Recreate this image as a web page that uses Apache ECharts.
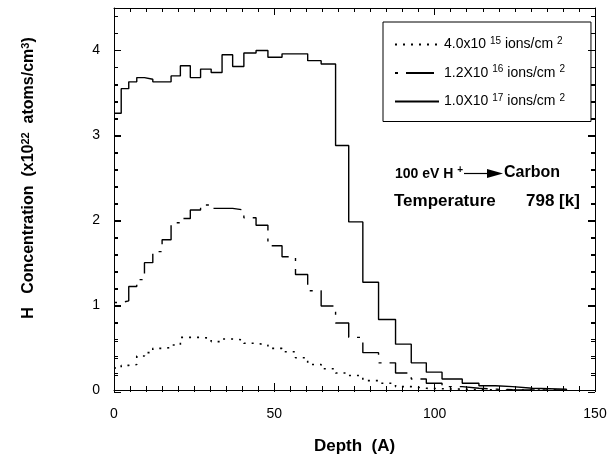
<!DOCTYPE html>
<html>
<head>
<meta charset="utf-8">
<script src="https://cdn.jsdelivr.net/npm/echarts@6/dist/echarts.min.js"></script>
<style>
  html, body { margin: 0; padding: 0; background: #fff; }
  #chart { width: 613px; height: 460px; }
</style>
</head>
<body>
<div id="chart"></div>
<script>
// bin edges of the depth histogram (A)
const binEdges = [0, 2.25, 4.6, 7.1, 9.5, 12.1, 15.0, 17.8, 20.7, 23.8, 27.0, 30.3, 33.7,
  37.0, 40.5, 44.3, 48.0, 52.4, 56.6, 60.4, 64.6, 69.1, 73.2, 77.6, 82.5, 87.8, 92.7,
  97.4, 102.3, 108.6, 113.8, 119.0, 124.3, 130.5, 135.8, 141.1];

// H concentration per bin (x10^22 atoms/cm^3)
const lowDose = [0.26, 0.29, 0.30, 0.40, 0.44, 0.49, 0.50, 0.53, 0.62, 0.62, 0.61, 0.57,
  0.60, 0.59, 0.55, 0.53, 0.49, 0.45, 0.38, 0.30, 0.25, 0.20, 0.17, 0.11, 0.08, 0.04,
  0.02, 0.015, 0.01, 0.005, 0, 0, 0, 0, 0];
const midDose = [1.03, 1.05, 1.22, 1.30, 1.50, 1.63, 1.77, 1.97, 2.02, 2.12, 2.18, 2.14,
  2.14, 2.12, 2.03, 1.94, 1.70, 1.57, 1.36, 1.17, 0.99, 0.79, 0.62, 0.44, 0.32, 0.20,
  0.13, 0.08, 0.04, 0.02, 0.01, 0.005, 0, 0, 0];
const highDose = [3.26, 3.55, 3.63, 3.68, 3.66, 3.63, 3.63, 3.70, 3.82, 3.68, 3.78, 3.74,
  3.95, 3.81, 3.97, 4.00, 3.92, 3.96, 3.96, 3.88, 3.84, 2.88, 1.98, 1.27, 0.83, 0.54,
  0.32, 0.21, 0.13, 0.08, 0.05, 0.04, 0.02, 0.015, 0.01];

const doseBase = ['4.0x10', '1.2X10', '1.0X10'];
const doseExp = ['15', '16', '17'];
const seriesNames = ['low', 'mid', 'high'];

const FONT = 'Liberation Sans, Arial, sans-serif';
const PLOT = { left: 114, right: 18, top: 8, bottom: 68 };
const X_RANGE = { min: 0, max: 150, interval: 50, minor: 10 };
const Y_RANGE = { min: 0, max: 4.5, interval: 1, minor: 5 };

function steps(vals) {
  const pts = vals.map((v, i) => [binEdges[i], v]);
  pts.push([binEdges[vals.length], 0]);
  return pts;
}

const chart = echarts.init(document.getElementById('chart'));

function frameAxis(extra, split) {
  return Object.assign({
    type: 'value', gridIndex: 0,
    axisLine: { show: true, onZero: false, lineStyle: { color: '#000', width: 1 } },
    axisTick: { show: true, inside: true, length: 7, lineStyle: { color: '#000', width: 1 } },
    minorTick: { show: true, splitNumber: split, length: 4, lineStyle: { color: '#000', width: 1 } },
    splitLine: { show: false }
  }, extra);
}

// thin strips along the frame; their split lines act as the inward tick marks
const grids = [Object.assign({}, PLOT)];
const xAxes = [
  frameAxis({
    min: X_RANGE.min, max: X_RANGE.max, interval: X_RANGE.interval, position: 'bottom',
    axisLabel: { margin: 17, fontSize: 14, color: '#000', fontFamily: FONT },
    name: 'Depth  (A)', nameLocation: 'middle', nameGap: 48,
    nameTextStyle: { fontSize: 17, fontWeight: 'bold', color: '#000', fontFamily: FONT }
  }, X_RANGE.minor),
  frameAxis({
    min: X_RANGE.min, max: X_RANGE.max, interval: X_RANGE.interval, position: 'top',
    axisLabel: { show: false }
  }, X_RANGE.minor)
];
const yAxes = [
  frameAxis({
    min: Y_RANGE.min, max: Y_RANGE.max, interval: Y_RANGE.interval, position: 'left',
    axisLabel: { margin: 14, fontSize: 14, color: '#000', fontFamily: FONT,
      showMaxLabel: false },
    name: '{t|H   Concentration  (x10}{s|22}{t|  atoms/cm}{s|3}{t|)}',
    nameLocation: 'middle', nameGap: 76,
    nameTextStyle: {
      fontSize: 16, fontWeight: 'bold', color: '#000', fontFamily: FONT,
      padding: [0, 0, 0, 42],
      rich: {
        t: { fontSize: 16, fontWeight: 'bold', fontFamily: FONT, color: '#000' },
        s: { fontSize: 11, fontWeight: 'bold', fontFamily: FONT, color: '#000',
          verticalAlign: 'bottom', padding: [0, 0, 7, 0] }
      }
    }
  }, Y_RANGE.minor),
  frameAxis({
    min: Y_RANGE.min, max: Y_RANGE.max, interval: Y_RANGE.interval, position: 'right',
    axisLabel: { show: false }
  }, Y_RANGE.minor)
];

function tickAxis(range, gridIndex, minor) {
  return {
    type: 'value', gridIndex: gridIndex,
    min: range.min, max: range.max, interval: range.interval,
    axisLine: { show: false }, axisTick: { show: false }, axisLabel: { show: false },
    splitLine: { show: true, lineStyle: { color: '#000', width: 1 } },
    minorTick: { show: false, splitNumber: range.minor },
    minorSplitLine: { show: minor, lineStyle: { color: '#000', width: 1 } }
  };
}
function dummyAxis(gridIndex) {
  return { type: 'value', gridIndex: gridIndex, min: 0, max: 1, show: false,
    splitLine: { show: false } };
}

[
  { box: { left: PLOT.left, right: PLOT.right, bottom: PLOT.bottom, height: 7 }, dir: 'x', minor: false },
  { box: { left: PLOT.left, right: PLOT.right, bottom: PLOT.bottom, height: 4 }, dir: 'x', minor: true },
  { box: { left: PLOT.left, right: PLOT.right, top: PLOT.top, height: 7 }, dir: 'x', minor: false },
  { box: { left: PLOT.left, right: PLOT.right, top: PLOT.top, height: 4 }, dir: 'x', minor: true },
  { box: { left: PLOT.left, width: 7, top: PLOT.top, bottom: PLOT.bottom }, dir: 'y', minor: false },
  { box: { left: PLOT.left, width: 4, top: PLOT.top, bottom: PLOT.bottom }, dir: 'y', minor: true },
  { box: { right: PLOT.right, width: 7, top: PLOT.top, bottom: PLOT.bottom }, dir: 'y', minor: false },
  { box: { right: PLOT.right, width: 4, top: PLOT.top, bottom: PLOT.bottom }, dir: 'y', minor: true }
].forEach(strip => {
  const gi = grids.length;
  grids.push(strip.box);
  if (strip.dir === 'x') {
    xAxes.push(tickAxis(X_RANGE, gi, strip.minor));
    yAxes.push(dummyAxis(gi));
  } else {
    yAxes.push(tickAxis(Y_RANGE, gi, strip.minor));
    xAxes.push(dummyAxis(gi));
  }
});

const option = {
  animation: false,
  grid: grids,
  xAxis: xAxes,
  yAxis: yAxes,
  legend: {
    orient: 'vertical',
    left: 383, top: 22,
    data: seriesNames,
    borderColor: '#000', borderWidth: 1, borderRadius: 0,
    padding: [14, 26, 13, 11],
    itemGap: 13, itemWidth: 44, itemHeight: 14,
    itemStyle: { opacity: 0 },
    formatter: name => {
      const i = seriesNames.indexOf(name);
      return '{t|' + doseBase[i] + ' }{s|' + doseExp[i] + '}{t| ions/cm }{s|2}';
    },
    textStyle: {
      color: '#000', fontFamily: FONT, fontSize: 14,
      rich: {
        t: { fontSize: 14, fontFamily: FONT, color: '#000' },
        s: { fontSize: 10, fontFamily: FONT, color: '#000', verticalAlign: 'bottom',
          padding: [0, 0, 7, 0] }
      }
    }
  },
  graphic: [
    {
      type: 'text', left: 395, top: 165,
      style: {
        text: '{t|100 eV H }{s|+}',
        rich: {
          t: { font: 'bold 14px ' + FONT, fill: '#000' },
          s: { font: 'bold 10px ' + FONT, fill: '#000', verticalAlign: 'bottom',
            padding: [0, 0, 8, 0] }
        }
      }
    },
    {
      type: 'line', shape: { x1: 464, y1: 173.5, x2: 492, y2: 173.5 },
      style: { stroke: '#000', lineWidth: 1.2 }
    },
    {
      type: 'polygon', shape: { points: [[487, 169], [503, 173.5], [487, 178]] },
      style: { fill: '#000' }
    },
    {
      type: 'text', left: 504, top: 165,
      style: { text: 'Carbon', font: 'bold 16px ' + FONT, fill: '#000' }
    },
    {
      type: 'text', left: 394, top: 193,
      style: { text: 'Temperature', font: 'bold 17px ' + FONT, fill: '#000' }
    },
    {
      type: 'text', left: 526, top: 193,
      style: { text: '798 [k]', font: 'bold 17px ' + FONT, fill: '#000' }
    }
  ],
  series: [
    {
      name: seriesNames[0], type: 'line', step: 'end', symbol: 'none',
      xAxisIndex: 0, yAxisIndex: 0,
      data: steps(lowDose),
      lineStyle: { color: '#000', width: 1.6, type: [2, 6] },
      itemStyle: { color: '#000' }
    },
    {
      name: seriesNames[1], type: 'line', step: 'end', symbol: 'none',
      xAxisIndex: 0, yAxisIndex: 0,
      data: steps(midDose),
      lineStyle: { color: '#000', width: 1.4, type: [3, 8, 28, 8] },
      itemStyle: { color: '#000' }
    },
    {
      name: seriesNames[2], type: 'line', step: 'end', symbol: 'none',
      xAxisIndex: 0, yAxisIndex: 0,
      data: steps(highDose),
      lineStyle: { color: '#000', width: 1.4, type: 'solid' },
      itemStyle: { color: '#000' }
    }
  ]
};

chart.setOption(option);
</script>
</body>
</html>
